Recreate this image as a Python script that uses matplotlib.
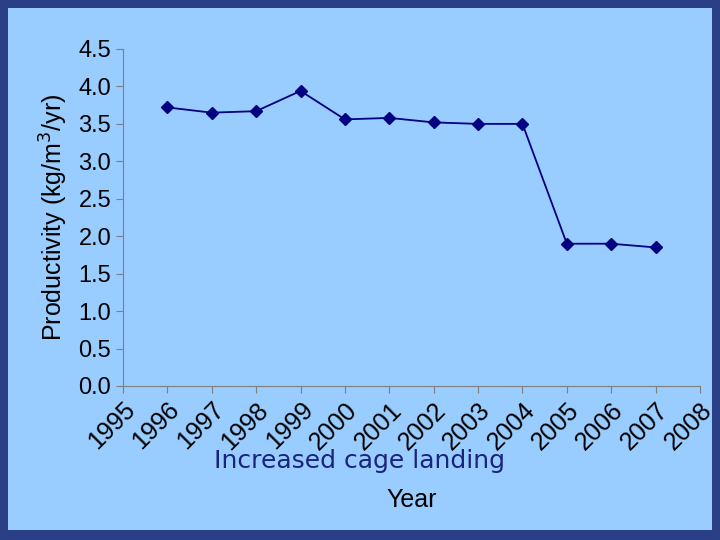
import matplotlib
matplotlib.use("Agg")
import matplotlib.pyplot as plt

years = list(range(1996, 2008))
productivity = [3.72, 3.65, 3.67, 3.94, 3.56, 3.58, 3.52, 3.50, 3.50, 1.90, 1.90, 1.85]
tick_years = list(range(1995, 2009))
yticks = [0.0, 0.5, 1.0, 1.5, 2.0, 2.5, 3.0, 3.5, 4.0, 4.5]

fig = plt.figure(figsize=(7.2, 5.4), dpi=100)
fig.patch.set_facecolor('#2a3f86')
bg = fig.add_axes([8/720, 10/540, 704/720, 522/540], zorder=0)
bg.set_facecolor('#99ccff')
bg.set_xticks([]); bg.set_yticks([])
for s in bg.spines.values():
    s.set_visible(False)

ax = fig.add_axes([123/720, 1 - 386/540, 577/720, 337/540], zorder=1)
ax.set_facecolor('none')
ax.plot(years, productivity, color='#000080', marker='D', markersize=6, linewidth=1.3)
ax.set_xlim(1995, 2008)
ax.set_ylim(0, 4.5)
ax.set_yticks(yticks)
ax.set_yticklabels([f"{v:.1f}" for v in yticks], fontsize=17, family='Liberation Sans')
ax.set_xticks(tick_years)
ax.set_xticklabels([str(y) for y in tick_years], rotation=45, fontsize=18,
                   family='Liberation Sans', ha='right', va='top', rotation_mode='anchor')
for s in ['top', 'right']:
    ax.spines[s].set_visible(False)
for s in ['left', 'bottom']:
    ax.spines[s].set_color('#808080')
ax.tick_params(colors='black', direction='out', length=5, color='#808080')
ax.set_ylabel('Productivity (kg/m$^3$/yr)', fontsize=18, family='Liberation Sans', labelpad=6)
ax.set_xlabel('Year', fontsize=18, family='Liberation Sans', labelpad=24)
fig.text(360/720, 1 - 461/540, 'Increased cage landing', fontsize=18, color='#1a237e',
         ha='center', va='center', family='DejaVu Sans', zorder=5)

fig.savefig('out.png', dpi=100, facecolor=fig.get_facecolor())
